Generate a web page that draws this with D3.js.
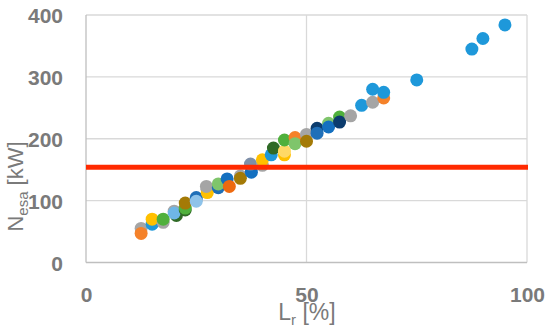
<!DOCTYPE html>
<html><head><meta charset="utf-8">
<script src="https://cdn.jsdelivr.net/npm/d3@7"></script>
<style>body{margin:0;background:#fff}svg{display:block}</style>
</head><body>
<script>
// Data
const xTicks = [0, 50, 100];
const yTicks = [0, 100, 200, 300, 400];
const thresholdValue = 154;
const xVals = [12.5,12.5,15,15,17.5,17.5,20,20.5,20,22.5,22.5,22.5,25,25,25,27.5,27.5,27.5,27.3,30,30,32,32.5,35,35,37.5,37.3,40,40,42,42.5,45,45,45,47.4,47.4,50,50,52.4,52.4,55,55,57.5,57.5,60,62.5,65,65,67.5,67.5,75,87.5,90,95];
const yVals = [55,47,62,70,65,70,83,76,80,85,88,96,102,105,99,117,118,113,123,121,127,135,123,140,136,146,159,157,166,174,185,174,180,198,202,192,207,196,217,209,225,219,235,227,237,254,259,280,266,275,295,345,362,384];
const pointSeries = [2,1,0,3,2,5,2,10,11,10,5,9,2,8,12,1,8,3,2,8,13,4,14,2,9,4,15,2,3,0,10,3,16,5,1,13,2,9,7,8,13,4,5,7,2,0,2,0,1,0,0,0,0,0];
const palette = ["#1E98DA","#F5822A","#A5A5A5","#FFC000","#1470C0","#4FB03C","#555555","#0B3C6E","#1F6FB8","#A47A06","#2F6A26","#6FB6E5","#8EC3EA","#7FC56B","#EE6A10","#7E8FA8","#FFD966"];

const W = 550, H = 329;
const svg = d3.select("body").append("svg").attr("width", W).attr("height", H);
const x = d3.scaleLinear().domain([0, 100]).range([86, 527]);
const y = d3.scaleLinear().domain([0, 400]).range([262.5, 15]);

// gridlines
svg.append("g").selectAll("line").data(yTicks.filter(d => d > 0)).join("line")
  .attr("x1", x(0)).attr("x2", x(100)).attr("y1", d => y(d)).attr("y2", d => y(d))
  .attr("stroke", "#D9D9D9").attr("stroke-width", 1.3);
svg.append("g").selectAll("line").data(xTicks.filter(d => d > 0)).join("line")
  .attr("x1", d => x(d)).attr("x2", d => x(d)).attr("y1", y(0)).attr("y2", y(400))
  .attr("stroke", "#D9D9D9").attr("stroke-width", 1.3);
// axis lines
svg.append("line").attr("x1", x(0)).attr("x2", x(0)).attr("y1", y(0)).attr("y2", y(400)).attr("stroke", "#BFBFBF").attr("stroke-width", 1.3);
svg.append("line").attr("x1", x(0)).attr("x2", x(100)).attr("y1", y(0)).attr("y2", y(0)).attr("stroke", "#BFBFBF").attr("stroke-width", 1.3);

// axes text via d3 axes
const yAxis = svg.append("g").attr("transform", `translate(${x(0) - 23},0)`)
  .call(d3.axisLeft(y).tickValues(yTicks).tickSize(0).tickPadding(0));
yAxis.select(".domain").remove();
yAxis.selectAll("text").attr("font-family", "Liberation Sans, Arial, sans-serif").attr("font-size", 21)
  .attr("font-weight", "bold").attr("fill", "#7A7A7A").attr("dy", "0.36em");

const xAxis = svg.append("g").attr("transform", `translate(0,${y(0)})`)
  .call(d3.axisBottom(x).tickValues(xTicks).tickSize(0).tickPadding(0));
xAxis.select(".domain").remove();
xAxis.selectAll("text").attr("font-family", "Liberation Sans, Arial, sans-serif").attr("font-size", 21)
  .attr("font-weight", "bold").attr("fill", "#7A7A7A").attr("dy", null).attr("y", 39);

// points
const pts = xVals.map((v, i) => ({x: v, y: yVals[i], s: pointSeries[i]}));
svg.append("g").selectAll("circle").data(pts).join("circle")
  .attr("cx", d => x(d.x)).attr("cy", d => y(d.y)).attr("r", 6.5)
  .attr("fill", d => palette[d.s]);

// threshold line
svg.append("line").attr("x1", x(0)).attr("x2", x(100) + 1).attr("y1", y(thresholdValue)).attr("y2", y(thresholdValue))
  .attr("stroke", "#FF2A00").attr("stroke-width", 5);

// axis titles
const xt = svg.append("text").attr("x", 307).attr("y", 320).attr("text-anchor", "middle")
  .attr("font-family", "Liberation Sans, Arial, sans-serif").attr("font-size", 23).attr("fill", "#7A7A7A");
xt.append("tspan").text("L");
xt.append("tspan").attr("font-size", 15).attr("dy", 5).text("r");
xt.append("tspan").attr("dy", -5).text(" [%]");

const yt = svg.append("text").attr("transform", "translate(23,186.5) rotate(-90)").attr("text-anchor", "middle")
  .attr("font-family", "Liberation Sans, Arial, sans-serif").attr("font-size", 22).attr("fill", "#7A7A7A");
yt.append("tspan").text("N");
yt.append("tspan").attr("font-size", 15).attr("dy", 5).text("esa");
yt.append("tspan").attr("dy", -5).text(" [kW]");
</script>
</body></html>
